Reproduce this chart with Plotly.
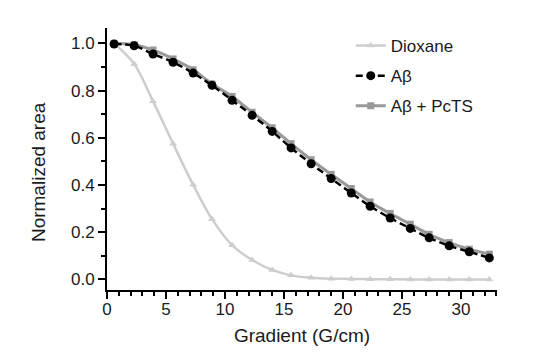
import plotly.graph_objects as go

gradient = [0.6, 2.3, 3.9, 5.6, 7.3, 8.9, 10.6, 12.3, 14.0, 15.6,
            17.3, 19.0, 20.7, 22.3, 24.0, 25.7, 27.3, 29.0, 30.7, 32.4]
dioxane = [1.0, 0.913, 0.755, 0.575, 0.401, 0.255, 0.145, 0.082, 0.040, 0.017,
           0.007, 0.003, 0.002, 0.001, 0.001, 0.0, 0.0, 0.0, 0.0, 0.0]
abeta = [0.997, 0.990, 0.955, 0.920, 0.874, 0.822, 0.759, 0.695, 0.627, 0.557,
         0.490, 0.427, 0.366, 0.310, 0.260, 0.216, 0.176, 0.142, 0.117, 0.091]
abeta_pcts = [1.0, 0.994, 0.972, 0.934, 0.888, 0.828, 0.775, 0.708, 0.642, 0.575,
              0.507, 0.445, 0.385, 0.328, 0.279, 0.234, 0.191, 0.156, 0.128, 0.107]
y_ticks = [0, 0.2, 0.4, 0.6, 0.8, 1.0]
y_ticklabels = ["0.0", "0.2", "0.4", "0.6", "0.8", "1.0"]

FONT = "Liberation Sans, Arial, sans-serif"
TXT = "#1a1a1a"

fig = go.Figure()
fig.add_trace(go.Scatter(
    x=gradient, y=dioxane, name="Dioxane", mode="lines+markers",
    line=dict(color="#cdcdcd", width=2.5, shape="spline", smoothing=1),
    marker=dict(symbol="triangle-up", size=7, color="#cdcdcd"),
    legendrank=1, legendgroup="g1"))
fig.add_trace(go.Scatter(
    x=gradient, y=abeta_pcts, name="A\u03b2 + PcTS", mode="lines+markers",
    line=dict(color="#999999", width=3, shape="spline", smoothing=1),
    marker=dict(symbol="square", size=7, color="#999999"),
    legendrank=3, legendgroup="g3"))
fig.add_trace(go.Scatter(
    x=gradient, y=abeta, name="A\u03b2", mode="lines+markers",
    line=dict(color="#000000", width=2.5, dash="7px,4px", shape="spline", smoothing=1),
    marker=dict(symbol="circle", size=9, color="#000000"),
    legendrank=2, legendgroup="g2"))

axis_common = dict(
    showline=True, linecolor="black", linewidth=2,
    ticks="outside", ticklen=7, tickwidth=2, tickcolor="black",
    showgrid=False, zeroline=False, automargin=False,
    tickfont=dict(family=FONT, size=17, color=TXT),
)

fig.update_xaxes(
    range=[0, 33.05], tickmode="linear", tick0=0, dtick=5,
    ticklabelstandoff=-4,
    minor=dict(ticks="outside", ticklen=4, tickwidth=2, tickcolor="black", dtick=1, tick0=0, showgrid=False),
    title=dict(text="Gradient (G/cm)", font=dict(family=FONT, size=19, color=TXT), standoff=10),
    **axis_common)
fig.update_yaxes(
    range=[-0.045, 1.065], tickmode="array",
    tickvals=y_ticks, ticktext=y_ticklabels,
    minor=dict(ticks="outside", ticklen=4, tickwidth=2, tickcolor="black", dtick=0.1, tick0=0, showgrid=False),
    **axis_common)

# y-axis title placed as in the reference (slightly below the axis centre)
fig.add_annotation(
    text="Normalized area", textangle=-90, showarrow=False,
    xref="paper", yref="paper", x=-0.177, y=0.45,
    xanchor="center", yanchor="middle",
    font=dict(family=FONT, size=19, color=TXT))

fig.update_layout(
    width=543, height=364,
    margin=dict(l=107, r=46, t=28, b=74),
    paper_bgcolor="white", plot_bgcolor="white",
    font=dict(family=FONT, size=17, color=TXT),
    legend=dict(x=0.625, y=1.0, xanchor="left", yanchor="top",
                bgcolor="rgba(0,0,0,0)", font=dict(family=FONT, size=17, color=TXT),
                tracegroupgap=5),
    showlegend=True,
)

fig.write_html("out.html", config={"displayModeBar": False},
               post_script="document.body.style.margin='0';document.body.style.overflow='hidden';")
